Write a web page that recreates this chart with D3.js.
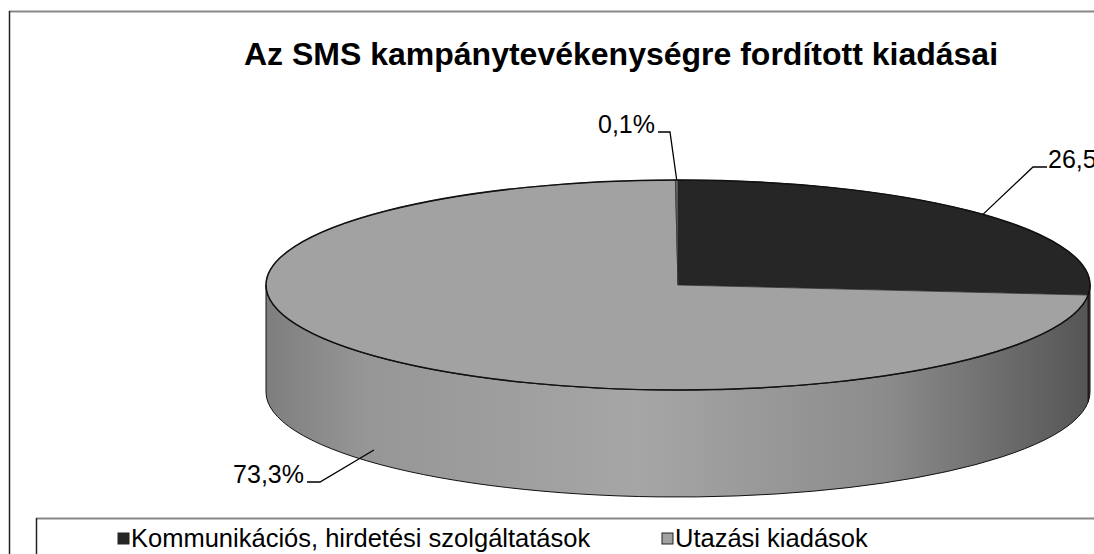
<!DOCTYPE html>
<html>
<head>
<meta charset="utf-8">
<script src="https://cdn.jsdelivr.net/npm/d3@7"></script>
<style>
  body { margin: 0; background: #fff; }
  text { font-family: Arial, "Liberation Sans", sans-serif; }
</style>
</head>
<body>
<div id="chart"></div>
<script>
// data
var title = "Az SMS kampánytevékenységre fordított kiadásai";
var categories = ["Kommunikációs, hirdetési szolgáltatások", "Utazási kiadások", "Egyéb"];
var values = [26.5, 73.3, 0.1];
var valueLabels = ["26,5%", "73,3%", "0,1%"];

var width = 1094, height = 554;

// pie geometry (3d look: ellipse + side wall)
var cx = 678, cy = 285, rx = 412, ry = 105, depth = 107;

// label layout: text anchor point and elbow of the leader
var labelPos = [
  {x: 1048, y: 168, anchor: "start", elbow: 1033, hook: 0},
  {x: 304, y: 483, anchor: "end", elbow: 320, hook: 0.88},
  {x: 655, y: 133, anchor: "end", elbow: 670, hook: 0}
];

var topColors = ["#262626", "#a2a2a2", "#6a6a6a"];

var svg = d3.select("#chart").append("svg")
    .attr("width", width)
    .attr("height", height);

var defs = svg.append("defs");

// side shading like excel 3d pie
var grad = defs.append("linearGradient")
    .attr("id", "sideGrad")
    .attr("gradientUnits", "userSpaceOnUse")
    .attr("x1", cx - rx).attr("x2", cx + rx)
    .attr("y1", 0).attr("y2", 0);
[[0, "#7e7e7e"], [0.12, "#969696"], [0.45, "#a6a6a6"], [0.75, "#8c8c8c"], [1, "#555"]]
  .forEach(function(s) {
    grad.append("stop").attr("offset", s[0]).attr("stop-color", s[1]);
  });

// outer chart frame
svg.append("line")
    .attr("x1", 9).attr("x2", width).attr("y1", 11.5).attr("y2", 11.5)
    .attr("stroke", "#888").attr("stroke-width", 2);
svg.append("line")
    .attr("x1", 9.5).attr("x2", 9.5).attr("y1", 11).attr("y2", height)
    .attr("stroke", "#222").attr("stroke-width", 1.5);

// title
svg.append("text")
    .attr("x", 621)
    .attr("y", 65)
    .attr("text-anchor", "middle")
    .style("font-size", "32px")
    .style("font-weight", "bold")
    .text(title);

var pie = d3.pie().sort(null).value(function(d) { return d; });
var arcs = pie(values);

function pt(a, dy) {
  return [cx + rx * Math.sin(a), cy - ry * Math.cos(a) + (dy || 0)];
}

function topPath(d) {
  var p0 = pt(d.startAngle), p1 = pt(d.endAngle);
  var large = (d.endAngle - d.startAngle) > Math.PI ? 1 : 0;
  return "M" + cx + "," + cy + "L" + p0 + "A" + rx + "," + ry + " 0 " + large + " 1 " + p1 + "Z";
}

function sidePath(d) {
  var s = Math.max(d.startAngle, Math.PI / 2),
      e = Math.min(d.endAngle, 3 * Math.PI / 2);
  if (s >= e) return null;
  var large = (e - s) > Math.PI ? 1 : 0;
  return "M" + pt(s) + "A" + rx + "," + ry + " 0 " + large + " 1 " + pt(e) +
    "L" + pt(e, depth) + "A" + rx + "," + ry + " 0 " + large + " 0 " + pt(s, depth) + "Z";
}

var g = svg.append("g");

// side walls first
g.selectAll("path.side")
    .data(arcs.filter(function(d) { return sidePath(d) !== null; }))
    .enter()
    .append("path")
    .attr("class", "side")
    .attr("d", sidePath)
    .attr("fill", function(d) { return d.index === 0 ? "#3c3c3c" : "url(#sideGrad)"; })
    .attr("stroke", "#111")
    .attr("stroke-width", 1);

// top faces
g.selectAll("path.top")
    .data(arcs)
    .enter()
    .append("path")
    .attr("class", "top")
    .attr("d", topPath)
    .attr("fill", function(d, i) { return topColors[i]; })
    .attr("stroke", function(d, i) { return i === 0 ? "#111" : "#333"; })
    .attr("stroke-width", 0.8);

// rim outline of the top ellipse
g.append("ellipse")
    .attr("cx", cx).attr("cy", cy)
    .attr("rx", rx).attr("ry", ry)
    .attr("fill", "none")
    .attr("stroke", "#111")
    .attr("stroke-width", 1.5);

// data labels with leader lines
arcs.forEach(function(d, i) {
  var lp = labelPos[i];
  var mid = (d.startAngle + d.endAngle) / 2;
  var end = pt(mid, depth * lp.hook);
  var start = lp.anchor === "start" ? lp.x - 1 : lp.x + 3;
  svg.append("path")
      .attr("d", "M" + start + "," + (lp.y - 1) + "H" + lp.elbow + "L" + end)
      .attr("fill", "none")
      .attr("stroke", "#000")
      .attr("stroke-width", 1.3);
  svg.append("text")
      .attr("x", lp.x)
      .attr("y", lp.y)
      .attr("text-anchor", lp.anchor)
      .style("font-size", "25px")
      .text(valueLabels[i]);
});

// legend box
svg.append("line")
    .attr("x1", 36).attr("x2", width).attr("y1", 518.5).attr("y2", 518.5)
    .attr("stroke", "#888").attr("stroke-width", 2);
svg.append("line")
    .attr("x1", 36.5).attr("x2", 36.5).attr("y1", 518).attr("y2", height)
    .attr("stroke", "#222").attr("stroke-width", 1.5);

var legendX = [118, 662];
var legend = svg.selectAll("g.legend")
    .data(categories.slice(0, 2))
    .enter()
    .append("g")
    .attr("class", "legend")
    .attr("transform", function(d, i) { return "translate(" + legendX[i] + ",547)"; });

legend.append("rect")
    .attr("x", 0).attr("y", -14)
    .attr("width", 11).attr("height", 11)
    .attr("fill", function(d, i) { return topColors[i]; })
    .attr("stroke", "#222")
    .attr("stroke-width", 1);

legend.append("text")
    .attr("x", 13)
    .attr("y", 0)
    .style("font-size", "25.5px")
    .text(function(d) { return d; });
</script>
</body>
</html>
